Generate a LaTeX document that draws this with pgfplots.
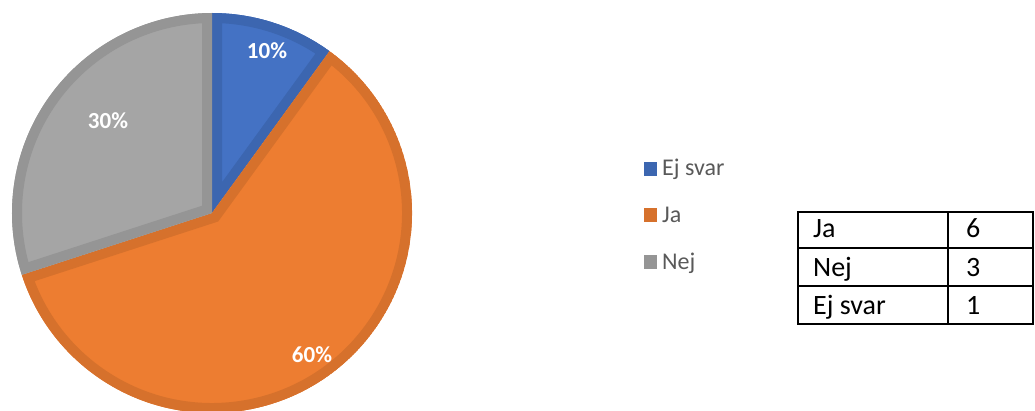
\documentclass[border=0pt]{standalone}
\usepackage{pgfplots}
\pgfplotsset{compat=1.18}
\usepackage{pgfplotstable}
\usepackage{fontspec}
\setmainfont{Carlito}
\definecolor{cBlue}{HTML}{4472C4}
\definecolor{cBlueB}{HTML}{3C66B0}
\definecolor{cOrange}{HTML}{ED7D31}
\definecolor{cOrangeB}{HTML}{D6712C}
\definecolor{cGray}{HTML}{A5A5A5}
\definecolor{cGrayB}{HTML}{959595}
\definecolor{legtext}{HTML}{595959}

\pgfplotstableread{
label value
{Ej svar} 1
Ja 6
Nej 3
}\piedata

\newcommand\slice[4]{%
  \begin{scope}
    \clip (axis cs:212,197) -- ++(#1:200pt) arc[start angle=#1,end angle=#2,radius=200pt] -- cycle;
    \fill[#3] (axis cs:212,197) -- ++(#1:200pt) arc[start angle=#1,end angle=#2,radius=200pt] -- cycle;
    \draw[#4,line width=20pt] (axis cs:212,197) -- ++(#1:200pt) arc[start angle=#1,end angle=#2,radius=200pt] -- cycle;
  \end{scope}}

\begin{document}
\begin{tikzpicture}
\pgfplotstablegetelem{0}{value}\of\piedata \pgfmathtruncatemacro\vA{\pgfplotsretval}
\pgfplotstablegetelem{1}{value}\of\piedata \pgfmathtruncatemacro\vB{\pgfplotsretval}
\pgfplotstablegetelem{2}{value}\of\piedata \pgfmathtruncatemacro\vC{\pgfplotsretval}
\pgfmathsetmacro\tot{\vA+\vB+\vC}
\pgfmathsetmacro\aA{90}
\pgfmathsetmacro\aB{\aA-360*\vA/\tot}
\pgfmathsetmacro\aC{\aB-360*\vB/\tot}
\pgfmathsetmacro\aD{\aC-360*\vC/\tot}
\begin{axis}[
  at={(0,0)}, anchor=origin,
  width=1035pt, height=410pt, scale only axis,
  xmin=0, xmax=1035, ymin=0, ymax=410,
  hide axis,
]
\path (axis cs:0,0) rectangle (axis cs:1035,410);
\slice{\aA}{\aB}{cBlue}{cBlueB}
\slice{\aB}{\aC}{cOrange}{cOrangeB}
\slice{\aC}{\aD}{cGray}{cGrayB}
\node[white,font=\fontsize{23}{27}\selectfont\bfseries] at (axis cs:267,359) {10\%};
\node[white,font=\fontsize{23}{27}\selectfont\bfseries] at (axis cs:312,55) {60\%};
\node[white,font=\fontsize{23}{27}\selectfont\bfseries] at (axis cs:108,289) {30\%};
% legend
\fill[cBlueB] (axis cs:644,234) rectangle (axis cs:657,248);
\fill[cOrangeB] (axis cs:644,188) rectangle (axis cs:657,202);
\fill[cGrayB] (axis cs:644,141) rectangle (axis cs:657,155);
\node[legtext,anchor=base west,inner sep=0pt,font=\fontsize{24}{28}\selectfont] at (axis cs:662,234) {Ej svar};
\node[legtext,anchor=base west,inner sep=0pt,font=\fontsize{24}{28}\selectfont] at (axis cs:662,188) {Ja};
\node[legtext,anchor=base west,inner sep=0pt,font=\fontsize{24}{28}\selectfont] at (axis cs:662,141) {Nej};
% table
\draw[black,line width=2pt] (axis cs:798,198) rectangle (axis cs:1033,86);
\draw[black,line width=2pt] (axis cs:798,162) -- (axis cs:1033,162);
\draw[black,line width=2pt] (axis cs:798,124) -- (axis cs:1033,124);
\draw[black,line width=2pt] (axis cs:948,198) -- (axis cs:948,86);
\node[anchor=base west,inner sep=0pt,font=\fontsize{28}{32}\selectfont] at (axis cs:813,172) {Ja};
\node[anchor=base west,inner sep=0pt,font=\fontsize{28}{32}\selectfont] at (axis cs:813,134) {Nej};
\node[anchor=base west,inner sep=0pt,font=\fontsize{28}{32}\selectfont] at (axis cs:813,96) {Ej svar};
\node[anchor=base west,inner sep=0pt,font=\fontsize{28}{32}\selectfont] at (axis cs:966,172) {\vB};
\node[anchor=base west,inner sep=0pt,font=\fontsize{28}{32}\selectfont] at (axis cs:966,134) {\vC};
\node[anchor=base west,inner sep=0pt,font=\fontsize{28}{32}\selectfont] at (axis cs:966,96) {\vA};
\end{axis}
\end{tikzpicture}
\end{document}
